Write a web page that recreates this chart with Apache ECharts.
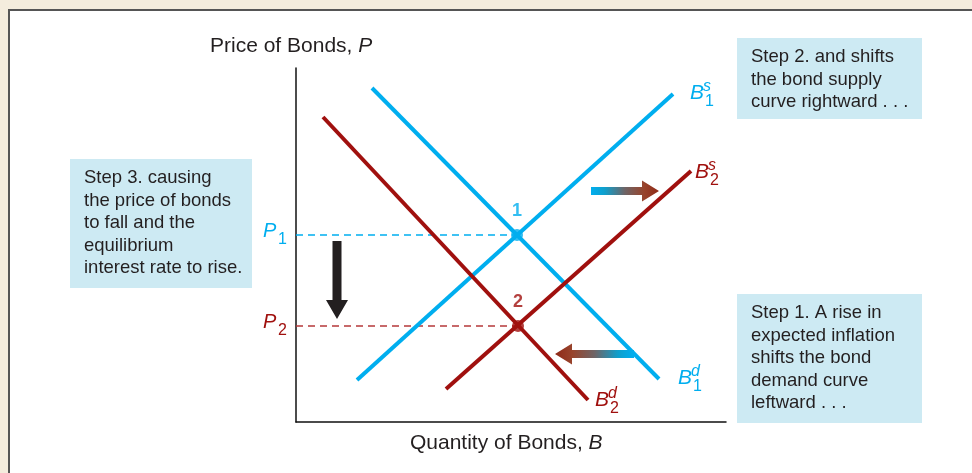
<!DOCTYPE html>
<html>
<head>
<meta charset="utf-8">
<script src="https://cdn.jsdelivr.net/npm/echarts@6/dist/echarts.min.js"></script>
<style>
html,body{margin:0;padding:0;background:#f4ecdd;}
#c{width:972px;height:473px;}
</style>
</head>
<body>
<div id="c"></div>
<script>
// ---- Data (quantity, price) in chart units ----
const supply1 = [[61, 42], [377, 328]];
const demand1 = [[76, 334], [363, 43]];
const demand2 = [[27, 305], [292, 22]];
const supply2 = [[150, 33], [395, 251]];
const eq1 = [221, 187];
const eq2 = [222, 96];
const eqLabels = ['1', '2'];
// shift arrows (from, to)
const supplyShift = [[295, 231], [363, 231]];
const demandShift = [[338, 68], [259, 68]];
const priceFall = [[41, 181], [41, 103]];
// curve label anchors
const curveLabels = [
  {name: 'B', sup: 's', sub: '1', pos: [394, 329], color: '#00aeef'},
  {name: 'B', sup: 's', sub: '2', pos: [399, 250], color: '#a0100e'},
  {name: 'B', sup: 'd', sub: '1', pos: [382, 44], color: '#00aeef'},
  {name: 'B', sup: 'd', sub: '2', pos: [299, 22], color: '#a0100e'}
];
const steps = [
  {box: [737, 38, 185, 81], lines: ['Step 2. and shifts', 'the bond supply', 'curve rightward . . .']},
  {box: [70, 159, 182, 129], lines: ['Step 3. causing', 'the price of bonds', 'to fall and the', 'equilibrium', 'interest rate to rise.']},
  {box: [737, 294, 185, 129], lines: ['Step 1. A rise in', 'expected inflation', 'shifts the bond', 'demand curve', 'leftward . . .']}
];
const xTitle = 'Quantity of Bonds, ';
const yTitle = 'Price of Bonds, ';

const CYAN = '#00aeef', RED = '#a0100e', INK = '#231f20';
const FONT = '"Liberation Sans", Arial, Helvetica, sans-serif';

const chart = echarts.init(document.getElementById('c'));
const lineSeries = (data, color) => ({
  type: 'line', data, showSymbol: false, silent: true, z: 3,
  lineStyle: {color, width: 4, cap: 'butt'}
});
const dashSeries = (pt, color) => ({
  type: 'line', data: [[0, pt[1]], pt], showSymbol: false, silent: true, z: 2,
  lineStyle: {color, width: 1.5, type: [7, 5]}
});

chart.setOption({
  animation: false,
  backgroundColor: 'transparent',
  grid: {left: 296, top: 68, width: 430, height: 354},
  xAxis: {type: 'value', min: 0, max: 430, axisLine: {show: true, onZero: false, lineStyle: {color: '#111', width: 1.5}},
    axisTick: {show: false}, axisLabel: {show: false}, splitLine: {show: false}},
  yAxis: {type: 'value', min: 0, max: 354, axisLine: {show: true, onZero: false, lineStyle: {color: '#111', width: 1.5}},
    axisTick: {show: false}, axisLabel: {show: false}, splitLine: {show: false}},
  series: [
    dashSeries(eq1, CYAN),
    dashSeries(eq2, '#b5383a'),
    lineSeries(supply1, CYAN),
    lineSeries(demand1, CYAN),
    lineSeries(demand2, RED),
    lineSeries(supply2, RED),
    {type: 'scatter', z: 5, symbolSize: 12, data: [
      {value: eq1, itemStyle: {color: CYAN}, label: {color: CYAN}},
      {value: eq2, itemStyle: {color: RED}, label: {color: RED}}],
      label: {show: true, position: 'top', distance: 9, fontFamily: FONT, fontWeight: 'bold', fontSize: 18,
        formatter: p => eqLabels[p.dataIndex]}}
  ]
});

const px = v => chart.convertToPixel({gridIndex: 0}, v);
const g = [];
// panel
g.push({type: 'rect', z: -10, shape: {x: 9, y: 10, width: 1000, height: 500},
  style: {fill: '#ffffff', stroke: '#555555', lineWidth: 2}});
// step boxes
steps.forEach(s => {
  g.push({type: 'rect', z: 1, shape: {x: s.box[0], y: s.box[1], width: s.box[2], height: s.box[3]}, style: {fill: '#cdeaf3'}});
  g.push({type: 'text', z: 2, x: s.box[0] + 14, y: s.box[1] + 8,
    style: {text: s.lines.join('\n'), fill: INK, font: '18.5px ' + FONT, lineHeight: 22.5, textVerticalAlign: 'top'}});
});
// axis titles
const rich = {a: {fontSize: 21, fontFamily: FONT, fill: INK}, b: {fontSize: 21, fontFamily: FONT, fontStyle: 'italic', fill: INK}};
g.push({type: 'text', x: 210, y: 46, style: {rich, text: '{a|' + yTitle + '}{b|P}', textVerticalAlign: 'middle', fill: INK}});
g.push({type: 'text', x: 410, y: 443, style: {rich, text: '{a|' + xTitle + '}{b|B}', textVerticalAlign: 'middle', fill: INK}});
// price labels P1 P2
[[eq1, CYAN, '1'], [eq2, RED, '2']].forEach(([pt, col, s]) => {
  const p = px([0, pt[1]]);
  g.push({type: 'text', x: p[0] - 33, y: p[1] - 4, style: {text: 'P', font: 'italic 20px ' + FONT, fill: col, textVerticalAlign: 'middle'}});
  g.push({type: 'text', x: p[0] - 18, y: p[1] + 5, style: {text: s, font: '16px ' + FONT, fill: col, textVerticalAlign: 'middle'}});
});
// curve labels
curveLabels.forEach(l => {
  const p = px(l.pos);
  g.push({type: 'text', x: p[0], y: p[1], style: {text: l.name, font: 'italic 21px ' + FONT, fill: l.color, textVerticalAlign: 'middle'}});
  g.push({type: 'text', x: p[0] + 13, y: p[1] - 6, style: {text: l.sup, font: 'italic 16px ' + FONT, fill: l.color, textVerticalAlign: 'middle'}});
  g.push({type: 'text', x: p[0] + 15, y: p[1] + 9, style: {text: l.sub, font: '16px ' + FONT, fill: l.color, textVerticalAlign: 'middle'}});
});
// arrows
function arrow(seg, half, headLen, headHalf, fill) {
  const a = px(seg[0]), b = px(seg[1]);
  const dx = b[0] - a[0], dy = b[1] - a[1], L = Math.hypot(dx, dy);
  const ux = dx / L, uy = dy / L, nx = -uy, ny = ux;
  const hb = [b[0] - ux * headLen, b[1] - uy * headLen];
  const pts = [
    [a[0] + nx * half, a[1] + ny * half], [hb[0] + nx * half, hb[1] + ny * half],
    [hb[0] + nx * headHalf, hb[1] + ny * headHalf], b,
    [hb[0] - nx * headHalf, hb[1] - ny * headHalf], [hb[0] - nx * half, hb[1] - ny * half],
    [a[0] - nx * half, a[1] - ny * half]];
  g.push({type: 'polygon', z: 4, shape: {points: pts}, style: {fill}});
}
const stopsLR = [{offset: 0, color: '#00aeef'}, {offset: 0.2, color: '#0f9fcc'}, {offset: 0.5, color: '#6e6466'}, {offset: 0.78, color: '#98442c'}, {offset: 1, color: '#8f2a18'}];
arrow(supplyShift, 4, 17, 10.5, new echarts.graphic.LinearGradient(0, 0, 1, 0, stopsLR));
arrow(demandShift, 4, 17, 10.5, new echarts.graphic.LinearGradient(1, 0, 0, 0, stopsLR));
arrow(priceFall, 4.5, 19, 11, '#231f20');

chart.setOption({graphic: g});
</script>
</body>
</html>
